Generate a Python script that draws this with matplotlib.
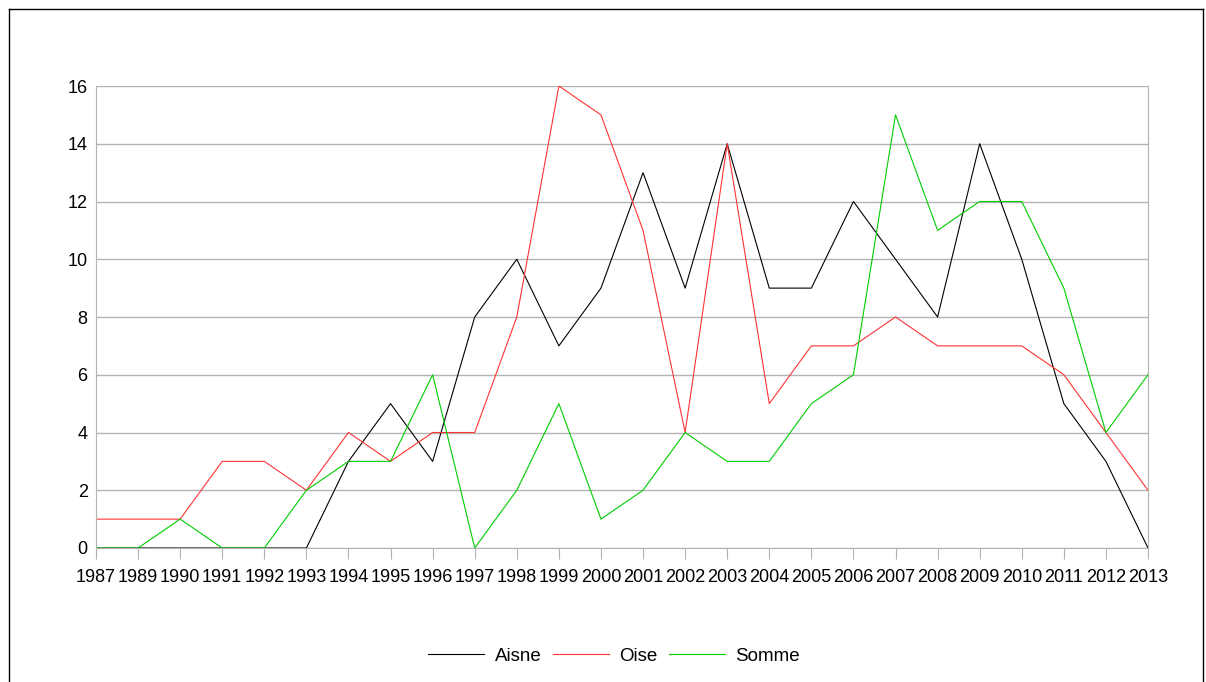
import matplotlib
matplotlib.use("Agg")
import matplotlib.pyplot as plt
from matplotlib.lines import Line2D

years = ["1987", "1989", "1990", "1991", "1992", "1993", "1994", "1995", "1996",
         "1997", "1998", "1999", "2000", "2001", "2002", "2003", "2004", "2005",
         "2006", "2007", "2008", "2009", "2010", "2011", "2012", "2013"]
aisne = [0, 0, 0, 0, 0, 0, 3, 5, 3, 8, 10, 7, 9, 13, 9, 14, 9, 9, 12, 10, 8, 14, 10, 5, 3, 0]
oise = [1, 1, 1, 3, 3, 2, 4, 3, 4, 4, 8, 16, 15, 11, 4, 14, 5, 7, 7, 8, 7, 7, 7, 6, 4, 2]
somme = [0, 0, 1, 0, 0, 2, 3, 3, 6, 0, 2, 5, 1, 2, 4, 3, 3, 5, 6, 15, 11, 12, 12, 9, 4, 6]

plt.rcParams["font.family"] = ["Liberation Sans", "DejaVu Sans"]

fig = plt.figure(figsize=(12.06, 6.82), dpi=100)
ax = fig.add_axes([96 / 1206, 134 / 682, 1052 / 1206, 462 / 682])

x = range(len(years))
ax.plot(x, aisne, color="#000000", lw=0.8, label="Aisne")
ax.plot(x, oise, color="#ff3333", lw=0.8, label="Oise")
ax.plot(x, somme, color="#00cc00", lw=0.8, label="Somme")

ax.set_xlim(0, len(years) - 1)
ax.set_ylim(0, 16)
ax.set_yticks(range(0, 17, 2))
ax.set_xticks(list(x))
ax.set_xticklabels(years)
ax.grid(axis="y", color="#b3b3b3", lw=1)
ax.set_axisbelow(True)
for s in ["left", "bottom", "right"]:
    ax.spines[s].set_color("#b3b3b3")
ax.spines["top"].set_visible(False)
ax.tick_params(axis="x", colors="#b3b3b3", labelcolor="black", labelsize=13,
               direction="out", length=8, pad=7)
ax.tick_params(axis="y", length=0, labelsize=13, pad=6)

# legend under the plot, a bit right of centre like the original
fig.legend(loc="center", bbox_to_anchor=(614 / 1206, 1 - 656 / 682), ncol=3, frameon=False,
           fontsize=13.5, handlelength=3.0, handletextpad=0.55, columnspacing=0.6)

# outer frame
fig.add_artist(Line2D([9 / 1206, 9 / 1206], [0, 1 - 9 / 682], color="black", lw=1))
fig.add_artist(Line2D([9 / 1206, 1203 / 1206], [1 - 9 / 682, 1 - 9 / 682], color="black", lw=1))
fig.add_artist(Line2D([1203 / 1206, 1203 / 1206], [0, 1 - 9 / 682], color="black", lw=1))

fig.savefig("out.png", dpi=100)
